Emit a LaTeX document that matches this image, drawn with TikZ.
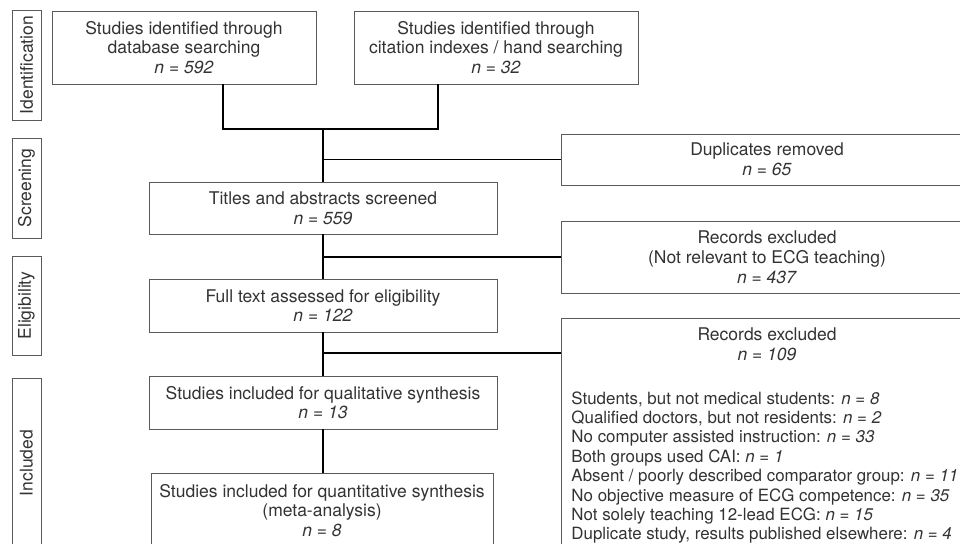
\documentclass[tikz,border=0pt]{standalone}
\usepackage{fontspec}
\setmainfont{TeX Gyre Heros}
\definecolor{txt}{HTML}{333333}
\definecolor{boxgray}{HTML}{5A5A5A}
\newcommand\diagfont{\fontsize{17.5pt}{19.8pt}\selectfont}
\newcommand\listfont{\fontsize{16.9pt}{19.4pt}\selectfont}
\begin{document}
\begin{tikzpicture}[x=1pt,y=-1pt,
  box/.style={draw=boxgray, line width=0.9pt, inner sep=0pt, text=txt, align=center, font=\diagfont},
  phase/.style={box, rotate=90},
  conn/.style={draw=black, line width=1.7pt}]
\useasboundingbox (0,0) rectangle (960,543);
\fill[white] (0,0) rectangle (960,543);
\clip (0,0) rectangle (960,543);
% phase labels
\node[phase, minimum width=110pt, minimum height=29pt] (pid) at (26.5,65) {Identification};
\node[phase, minimum width=100pt, minimum height=29pt] (psc) at (26.5,188) {Screening};
\node[phase, minimum width=99pt, minimum height=29pt] (pel) at (26.5,305.5) {Eligibility};
\node[phase, minimum width=170pt, minimum height=29pt] (pin) at (26.5,463) {Included};
% main boxes
\node[box, minimum width=264pt, minimum height=73pt] (b1) at (184,47.5) {Studies identified through\\database searching\\\textit{n = 592}};
\node[box, minimum width=284pt, minimum height=73pt] (b2) at (496,47.5) {Studies identified through\\citation indexes / hand searching\\\textit{n = 32}};
\node[box, minimum width=412pt, minimum height=51pt] (dup) at (767,159.5) {Duplicates removed\\\textit{n = 65}};
\node[box, minimum width=348pt, minimum height=52pt] (tit) at (323,208) {Titles and abstracts screened\\\textit{n = 559}};
\node[box, minimum width=412pt, minimum height=72pt] (rec1) at (767,257) {Records excluded\\(Not relevant to ECG teaching)\\\textit{n = 437}};
\node[box, minimum width=348pt, minimum height=53pt] (full) at (323,305.5) {Full text assessed for eligibility\\\textit{n = 122}};
\node[box, minimum width=412pt, minimum height=232pt] (rec2) at (767,434) {};
\node[box, draw=none, anchor=center] (rec2h) at (767,344.5) {Records excluded\\\textit{n = 109}};
\node[box, draw=none, align=left, font=\listfont, anchor=north west] (rec2l) at (571,391) {Students, but not medical students: \textit{n = 8}\\
Qualified doctors, but not residents: \textit{n = 2}\\
No computer assisted instruction: \textit{n = 33}\\
Both groups used CAI: \textit{n = 1}\\
Absent / poorly described comparator group: \textit{n = 11}\\
No objective measure of ECG competence: \textit{n = 35}\\
Not solely teaching 12-lead ECG: \textit{n = 15}\\
Duplicate study, results published elsewhere: \textit{n = 4}};
\node[box, minimum width=348pt, minimum height=53pt] (qual) at (323,402.5) {Studies included for qualitative synthesis\\\textit{n = 13}};
\node[box, minimum width=342pt, minimum height=75pt] (quant) at (322,510.5) {Studies included for quantitative synthesis\\(meta-analysis)\\\textit{n = 8}};
% connectors
\coordinate (j1) at (323,129);
\coordinate (x1) at (223,0);
\coordinate (x2) at (438,0);
\coordinate (k3) at (323,353);
\draw[conn] (b1.south -| x1) |- (j1) -| (b2.south -| x2);
\draw[conn] (j1) -- (j1 |- tit.north);
\draw[conn] (j1 |- dup.west) -- (dup.west);
\draw[conn] (tit.south) -- (full.north);
\draw[conn] (tit.south |- rec1.west) -- (rec1.west);
\draw[conn] (full.south) -- (qual.north);
\draw[conn] (k3) -- (k3 -| rec2.west);
\draw[conn] (qual.south) -- (qual.south |- quant.north);
\end{tikzpicture}
\end{document}
